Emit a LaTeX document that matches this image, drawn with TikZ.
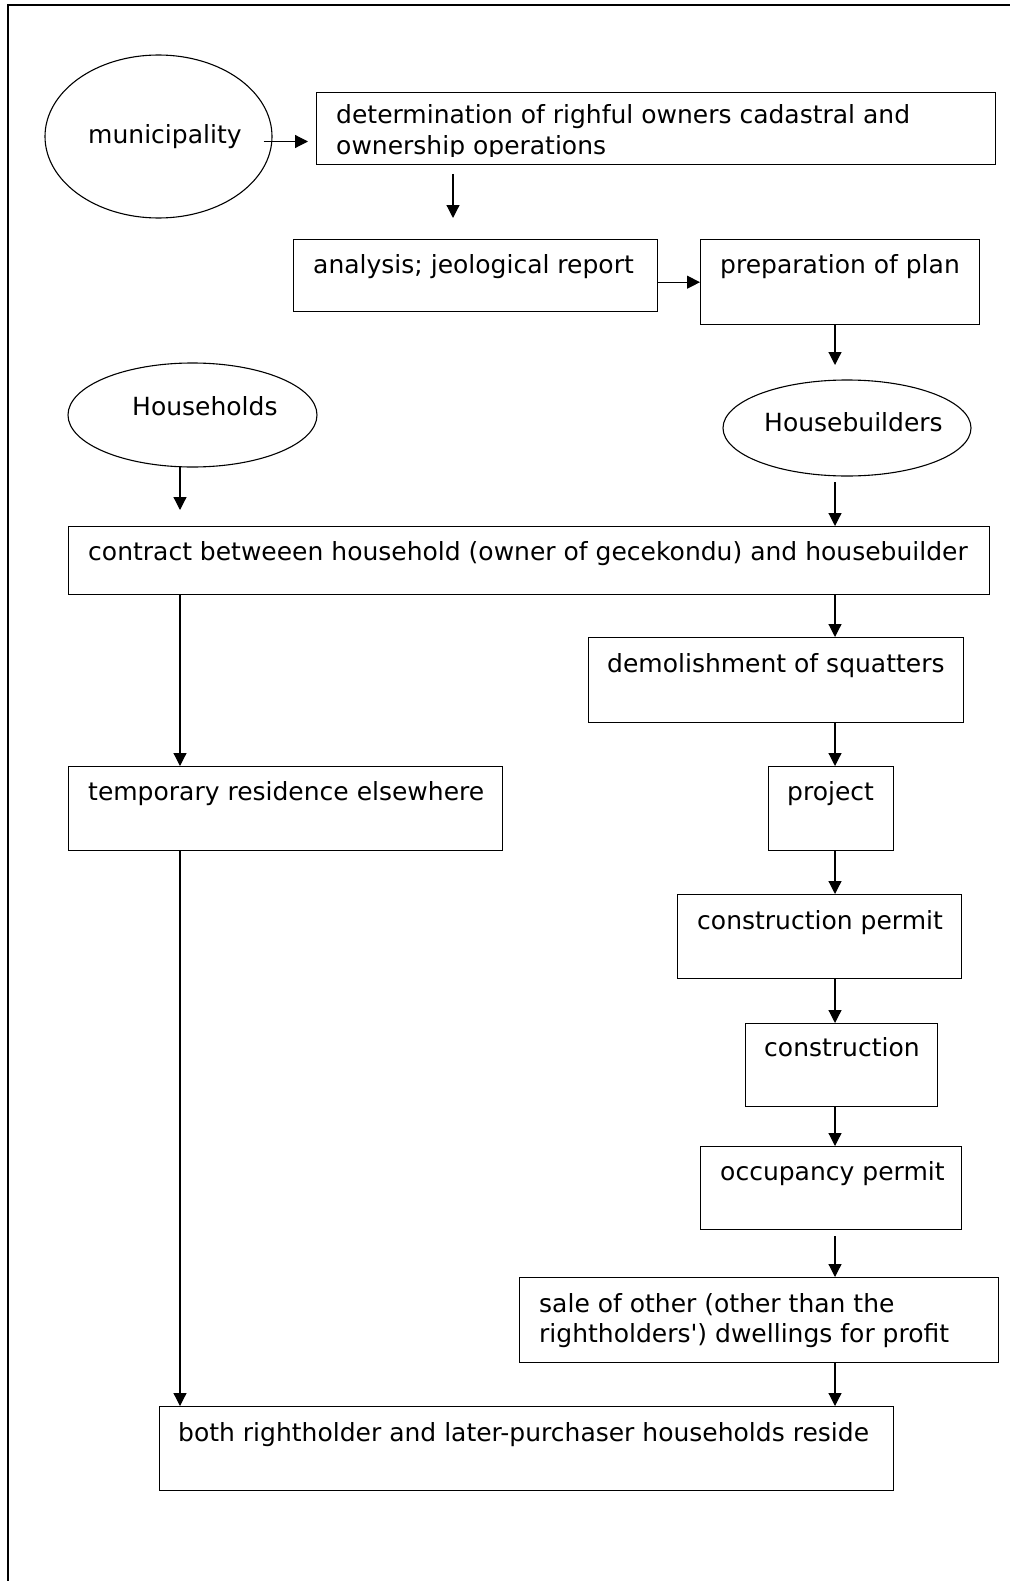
\documentclass[tikz,border=0pt]{standalone}
\usepackage{fontspec}
\setmainfont{DejaVu Sans}
\usetikzlibrary{shapes.geometric,arrows.meta,calc}
\begin{document}
\begin{tikzpicture}[x={(1pt,0)},y={(0,-1pt)},
  box/.style={draw,line width=1.4pt,inner sep=0pt,anchor=north west},
  oval/.style={draw,ellipse,line width=1.1pt,inner sep=0pt},
  txt/.style={inner sep=0pt,anchor=base west,font=\fontsize{25}{30}\selectfont},
  arr/.style={line width=1.2pt,-{Triangle[length=13pt,width=13pt]}},
  frame/.style={line width=2.4pt}]
\useasboundingbox (0,0) rectangle (1009,1581);
% outer frame (top and left edges)
\draw[frame] (1012,5) -- (8,5) -- (8,1585);

% columns used by the vertical arrows
\coordinate (lc) at (180,0);
\coordinate (rc) at (835,0);

% top section
\node[oval,minimum width=227pt,minimum height=163pt] (muni) at (158.5,136.5) {};
\node[txt] (muni-t) at (88,144) {municipality};

\node[box,minimum width=679pt,minimum height=72pt] (det) at (316,92) {};
\node[txt] (det-t1) at (336,124) {determination of righful owners cadastral and};
\begin{scope}
  \clip (316,92) rectangle (995,157);
  \node[txt] (det-t2) at (336,155) {ownership operations};
\end{scope}

\node[box,minimum width=364pt,minimum height=72pt] (ana) at (293,239) {};
\node[txt] (ana-t) at (313,273) {analysis; jeological report};

\node[box,minimum width=279pt,minimum height=85pt] (prep) at (700,239) {};
\node[txt] (prep-t) at (720,273) {preparation of plan};

% actors
\node[oval,minimum width=249pt,minimum height=104pt] (hh) at (192.5,415) {};
\node[txt] (hh-t) at (132,415) {Households};

\node[oval,minimum width=248pt,minimum height=96pt] (hb) at (847,428) {};
\node[txt] (hb-t) at (764,431) {Housebuilders};

% process
\node[box,minimum width=921pt,minimum height=68pt] (con) at (68,526) {};
\node[txt] (con-t) at (88,560) {contract betweeen household (owner of gecekondu) and housebuilder};

\node[box,minimum width=375pt,minimum height=85pt] (dem) at (588,637) {};
\node[txt] (dem-t) at (607,672) {demolishment of squatters};

\node[box,minimum width=434pt,minimum height=84pt] (tmp) at (68,766) {};
\node[txt] (tmp-t) at (88,800) {temporary residence elsewhere};

\node[box,minimum width=125pt,minimum height=84pt] (proj) at (768,766) {};
\node[txt] (proj-t) at (787,800) {project};

\node[box,minimum width=284pt,minimum height=84pt] (cp) at (677,894) {};
\node[txt] (cp-t) at (697,929) {construction permit};

\node[box,minimum width=192pt,minimum height=83pt] (cons) at (745,1023) {};
\node[txt] (cons-t) at (764,1056) {construction};

\node[box,minimum width=261pt,minimum height=83pt] (occ) at (700,1146) {};
\node[txt] (occ-t) at (720,1180) {occupancy permit};

\node[box,minimum width=479pt,minimum height=85pt] (sale) at (519,1277) {};
\node[txt] (sale-t1) at (539,1312) {sale of other (other than the};
\node[txt] (sale-t2) at (539,1342) {rightholders\textquotesingle) dwellings for profit};

\node[box,minimum width=734pt,minimum height=84pt] (both) at (159,1406) {};
\node[txt] (both-t) at (178,1441) {both rightholder and later-purchaser households reside};

% connectors
\coordinate (m1) at ($(muni.east)+(-9,5)$);
\draw[arr,shorten >=8pt] (m1) -- (m1 -| det.west);
\coordinate (d1) at (453,174);
\coordinate (d2) at (453,218);
\draw[arr] (d1) -- (d2);
\draw[arr] (prep.west -| ana.east) -- (prep.west);
\coordinate (p2) at (835,365);
\draw[arr] (prep.south -| rc) -- (p2);
\coordinate (h1) at (180,467);
\coordinate (h2) at (180,510);
\draw[arr] (h1) -- (h2);
\coordinate (b1) at (835,482);
\draw[arr] (b1) -- (con.north -| rc);
\draw[arr] (con.south -| lc) -- (tmp.north -| lc);
\draw[arr] (con.south -| rc) -- (dem.north -| rc);
\draw[arr] (dem.south -| rc) -- (proj.north -| rc);
\draw[arr] (proj.south -| rc) -- (cp.north -| rc);
\draw[arr] (cp.south -| rc) -- (cons.north -| rc);
\draw[arr] (cons.south -| rc) -- (occ.north -| rc);
\draw[arr] ($(occ.south -| rc)+(0,6)$) -- (sale.north -| rc);
\draw[arr] (sale.south -| rc) -- (both.north -| rc);
\draw[arr] (tmp.south -| lc) -- (both.north -| lc);
\end{tikzpicture}
\end{document}
